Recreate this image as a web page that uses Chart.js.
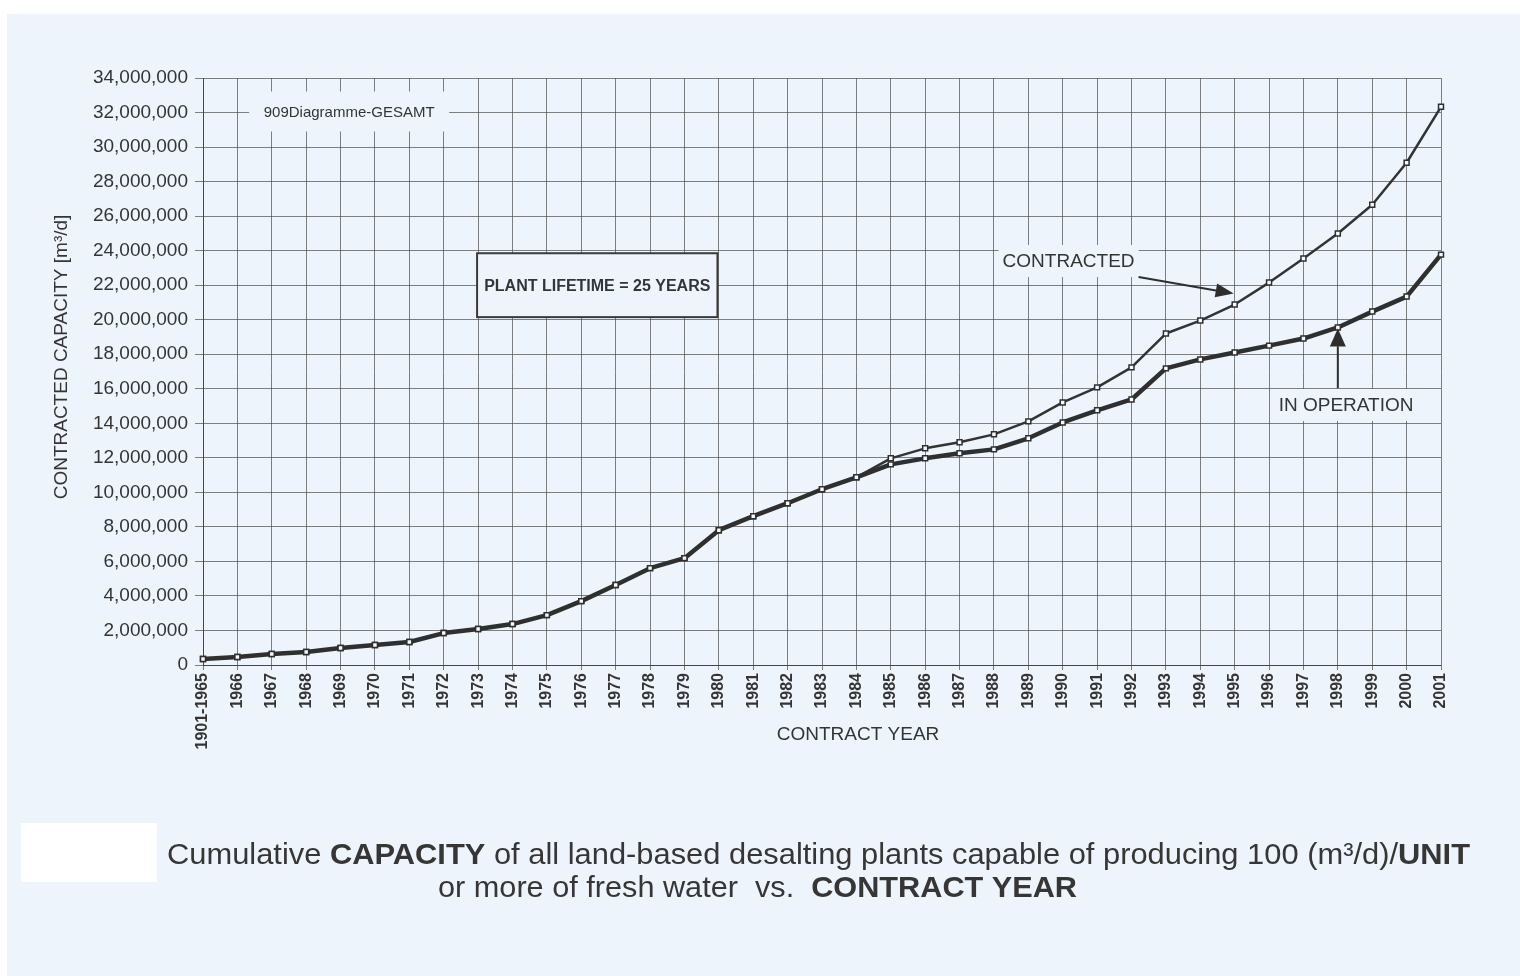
<!DOCTYPE html>
<html>
<head>
<meta charset="utf-8">
<title>Cumulative capacity of land-based desalting plants</title>
<script src="https://cdn.jsdelivr.net/npm/chart.js@4.4.1/dist/chart.umd.min.js"></script>
<style>
  html, body { margin: 0; padding: 0; background: #ffffff; }
  #wrap { position: relative; width: 1520px; height: 976px; }
  canvas { display: block; }
</style>
</head>
<body>
<div id="wrap"><canvas id="chart" width="1520" height="976"></canvas></div>
<script>
// Contract years (first bucket groups everything up to 1965)
const contractYears = [
  '1901-1965', '1966', '1967', '1968', '1969', '1970', '1971', '1972', '1973',
  '1974', '1975', '1976', '1977', '1978', '1979', '1980', '1981', '1982',
  '1983', '1984', '1985', '1986', '1987', '1988', '1989', '1990', '1991',
  '1992', '1993', '1994', '1995', '1996', '1997', '1998', '1999', '2000', '2001'
];

// Cumulative contracted capacity, m3/d
const contracted = [
  350000, 460000, 640000, 750000, 980000, 1160000, 1330000, 1850000, 2080000,
  2370000, 2890000, 3700000, 4630000, 5610000, 6190000, 7810000, 8620000, 9370000,
  10180000, 10870000, 11970000, 12550000, 12900000, 13360000, 14110000, 15210000, 16080000,
  17240000, 19200000, 19950000, 20880000, 22150000, 23540000, 24990000, 26660000, 29090000, 32330000
];

// Capacity still in operation (plant lifetime 25 years), m3/d
const inOperation = [
  350000, 460000, 640000, 750000, 980000, 1160000, 1330000, 1850000, 2080000,
  2370000, 2890000, 3700000, 4630000, 5610000, 6190000, 7810000, 8620000, 9370000,
  10180000, 10870000, 11620000, 11970000, 12260000, 12490000, 13130000, 14050000, 14750000,
  15380000, 17180000, 17700000, 18100000, 18500000, 18910000, 19550000, 20470000, 21340000, 23770000
];

// Y axis range and tick step
const yMin = 0;
const yMax = 34000000;
const yStep = 2000000;

const INK = '#343434';
const PANEL = '#eef4fb';
const GRID = 'rgba(75,75,75,0.7)';
const FONT = '"Liberation Sans", Arial, Helvetica, sans-serif';

function fmtThousands(v) {
  return String(Math.round(v)).replace(/\B(?=(\d{3})+(?!\d))/g, ',');
}

// Draw a line of mixed regular/bold text, squeezed to a given width
function drawRuns(ctx, runs, x, baseline, size, targetW) {
  let total = 0;
  const widths = runs.map(r => {
    ctx.font = (r[1] ? 'bold ' : '') + size + 'px ' + FONT;
    const w = ctx.measureText(r[0]).width;
    total += w;
    return w;
  });
  const k = targetW / total;
  ctx.save();
  ctx.translate(x, baseline);
  ctx.scale(k, 1);
  ctx.textAlign = 'left';
  ctx.textBaseline = 'alphabetic';
  let cx = 0;
  runs.forEach((r, i) => {
    ctx.font = (r[1] ? 'bold ' : '') + size + 'px ' + FONT;
    ctx.fillText(r[0], cx, 0);
    cx += widths[i];
  });
  ctx.restore();
}

function labelBox(ctx, cx, cy, hw, hh, text, font, border) {
  ctx.save();
  ctx.fillStyle = PANEL;
  ctx.fillRect(cx - hw, cy - hh, hw * 2, hh * 2);
  if (border) {
    ctx.strokeStyle = '#3a3a3a';
    ctx.lineWidth = 2;
    ctx.strokeRect(cx - hw, cy - hh, hw * 2, hh * 2);
  }
  ctx.fillStyle = INK;
  ctx.font = font;
  ctx.textAlign = 'center';
  ctx.textBaseline = 'middle';
  ctx.fillText(text, cx, cy + 1);
  ctx.restore();
}

function arrow(ctx, x0, y0, x1, y1, headLen, headHalf) {
  const a = Math.atan2(y1 - y0, x1 - x0);
  const bx = x1 - headLen * Math.cos(a);
  const by = y1 - headLen * Math.sin(a);
  ctx.save();
  ctx.strokeStyle = '#2e2e2e';
  ctx.fillStyle = '#2e2e2e';
  ctx.lineWidth = 2;
  ctx.beginPath();
  ctx.moveTo(x0, y0);
  ctx.lineTo(bx, by);
  ctx.stroke();
  ctx.beginPath();
  ctx.moveTo(x1, y1);
  ctx.lineTo(bx + headHalf * Math.sin(a), by - headHalf * Math.cos(a));
  ctx.lineTo(bx - headHalf * Math.sin(a), by + headHalf * Math.cos(a));
  ctx.closePath();
  ctx.fill();
  ctx.restore();
}

const decorations = {
  id: 'decorations',
  beforeDraw(chart) {
    const ctx = chart.ctx;
    ctx.save();
    ctx.fillStyle = '#ffffff';
    ctx.fillRect(0, 0, chart.width, chart.height);
    ctx.fillStyle = PANEL;
    ctx.fillRect(7, 14, chart.width - 7, chart.height - 14);
    ctx.fillStyle = '#ffffff';
    ctx.fillRect(21, 823, 136, 59);
    ctx.restore();
  },
  beforeDatasetsDraw(chart) {
    const ctx = chart.ctx;
    const sx = chart.scales.x, sy = chart.scales.y;
    const px = i => sx.getPixelForValue(i);
    const py = v => sy.getPixelForValue(v);

    labelBox(ctx, px(4.25), py(32000000) - 1, 100, 20, '909Diagramme-GESAMT', '15px ' + FONT, false);

    const l = px(7.97), r = px(14.96), t = py(23850000), b = py(20150000);
    labelBox(ctx, (l + r) / 2, (t + b) / 2, (r - l) / 2, (b - t) / 2,
      'PLANT LIFETIME = 25 YEARS', 'bold 16px ' + FONT, true);

    labelBox(ctx, px(25.17), py(23400000), 70, 16, 'CONTRACTED', '19px ' + FONT, false);
    labelBox(ctx, px(33.24), py(15060000), 75, 16, 'IN OPERATION', '19px ' + FONT, false);
  },
  afterDatasetsDraw(chart) {
    const ctx = chart.ctx;
    const sx = chart.scales.x, sy = chart.scales.y;
    const px = i => sx.getPixelForValue(i);
    const py = v => sy.getPixelForValue(v);

    // pointer to the contracted curve (1995)
    arrow(ctx, px(25.17) + 70, py(23400000) + 16, px(30) - 1, py(contracted[30]) - 11, 18, 7);
    // pointer to the in-operation curve (1998)
    arrow(ctx, px(33), py(15060000) - 17, px(33), py(inOperation[33]) + 1, 18, 8);
  },
  afterDraw(chart) {
    const ctx = chart.ctx;
    ctx.save();
    ctx.fillStyle = INK;
    ctx.font = '19px ' + FONT;
    ctx.textAlign = 'center';
    ctx.textBaseline = 'middle';
    // axis titles
    ctx.fillText('CONTRACT YEAR', 858, 735);
    ctx.save();
    ctx.translate(62, 357);
    ctx.rotate(-Math.PI / 2);
    ctx.fillText('CONTRACTED CAPACITY [m³/d]', 0, 0);
    ctx.restore();

    // caption below the chart
    ctx.fillStyle = '#363636';
    drawRuns(ctx, [
      ['Cumulative ', false], ['CAPACITY', true],
      [' of all land-based desalting plants capable of producing 100 (m³/d)/', false],
      ['UNIT', true]
    ], 167, 864, 30, 1303);
    drawRuns(ctx, [
      ['or more of fresh water  vs.  ', false], ['CONTRACT YEAR', true]
    ], 438, 897, 30, 639);
    ctx.restore();
  }
};

new Chart(document.getElementById('chart'), {
  type: 'line',
  data: {
    labels: contractYears,
    datasets: [
      {
        label: 'IN OPERATION',
        data: inOperation,
        borderColor: '#2f2f2f',
        borderWidth: 4.5,
        pointStyle: 'rect',
        pointRadius: 3.5,
        pointBackgroundColor: '#f7f9fc',
        pointBorderColor: '#2f2f2f',
        pointBorderWidth: 1.5,
        tension: 0,
        fill: false
      },
      {
        label: 'CONTRACTED',
        data: contracted,
        borderColor: '#333333',
        borderWidth: 2.5,
        pointStyle: 'rect',
        pointRadius: 3.5,
        pointBackgroundColor: '#f7f9fc',
        pointBorderColor: '#2f2f2f',
        pointBorderWidth: 1.5,
        tension: 0,
        fill: false
      }
    ]
  },
  options: {
    responsive: false,
    animation: false,
    devicePixelRatio: 1,
    layout: { padding: { top: 78, right: 79, bottom: 0, left: 0 } },
    plugins: {
      legend: { display: false },
      tooltip: { enabled: false }
    },
    elements: { line: { borderJoinStyle: 'round', borderCapStyle: 'round' } },
    scales: {
      x: {
        type: 'category',
        offset: false,
        grid: { color: GRID, lineWidth: 1, tickLength: 5, drawTicks: true },
        border: { color: 'rgba(60,60,60,0.85)', width: 1 },
        ticks: {
          autoSkip: false,
          minRotation: 90,
          maxRotation: 90,
          padding: 3,
          color: INK,
          font: { family: FONT, size: 16, weight: 'bold' }
        },
        afterFit(scale) { scale.height = 311; }
      },
      y: {
        min: yMin,
        max: yMax,
        grid: { color: GRID, lineWidth: 1, tickLength: 8, drawTicks: true },
        border: { color: 'rgba(60,60,60,0.85)', width: 1 },
        ticks: {
          stepSize: yStep,
          padding: 7,
          color: INK,
          font: { family: FONT, size: 19 },
          callback: v => fmtThousands(v)
        },
        afterFit(scale) { scale.width = 203; }
      }
    }
  },
  plugins: [decorations]
});
</script>
</body>
</html>
